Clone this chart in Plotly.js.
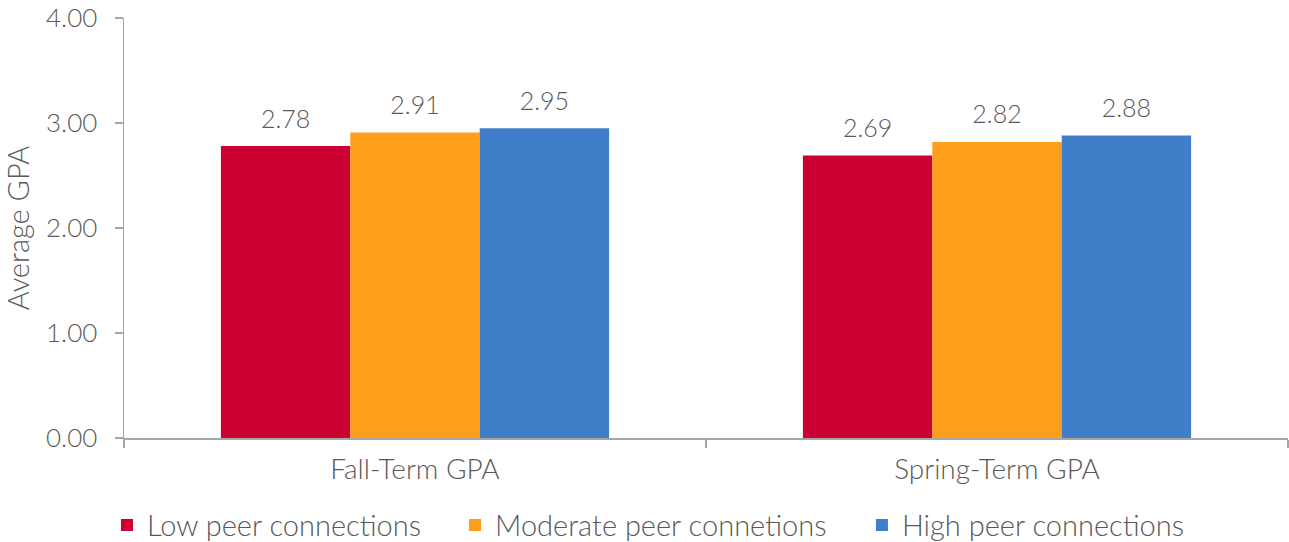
<!DOCTYPE html>
<html>
<head>
<meta charset="utf-8">
<script src="https://cdn.plot.ly/plotly-3.0.1.min.js"></script>
<style>html,body{margin:0;padding:0;background:#fff;}#chart{width:1289px;height:542px;}</style>
</head>
<body>
<div id="chart"></div>
<script>
const categories = ["Fall-Term GPA", "Spring-Term GPA"];
const seriesNames = ["Low peer connections", "Moderate peer connetions", "High peer connections"];
const lowValues = [2.78, 2.69];
const moderateValues = [2.91, 2.82];
const highValues = [2.95, 2.88];
const yTickValues = [0, 1, 2, 3, 4];
const yTickLabels = ["0.00", "1.00", "2.00", "3.00", "4.00"];

const colors = ["#CC0033", "#FF9E1B", "#3F7FCA"];
const legendIds = ["legend", "legend2", "legend3"];
const legendX = [0.0830, 0.3530, 0.6687];
const allValues = [lowValues, moderateValues, highValues];
const FONT = "Lato, 'Open Sans', sans-serif";
const GREY = "#595959";

const barTraces = allValues.map((vals, i) => ({
  type: "bar",
  name: seriesNames[i],
  legend: legendIds[i],
  x: categories,
  y: vals,
  offsetgroup: "g" + i,
  marker: {color: colors[i]},
  hoverinfo: "skip"
}));

const labelTraces = allValues.map((vals, i) => ({
  type: "scatter",
  mode: "markers+text",
  x: categories,
  y: vals,
  offsetgroup: "g" + i,
  marker: {size: 18, opacity: 0, color: colors[i]},
  text: vals.map(v => v.toFixed(2)),
  textposition: "top center",
  textfont: {family: FONT, size: 25, color: GREY, weight: 300},
  cliponaxis: false,
  showlegend: false,
  hoverinfo: "skip"
}));

function legendAt(x) {
  return {
    orientation: "h",
    xref: "container", x: x, xanchor: "left",
    yref: "container", y: 0.031, yanchor: "middle",
    font: {family: FONT, size: 29, color: GREY, weight: 300},
    itemwidth: 30,
    bgcolor: "rgba(0,0,0,0)"
  };
}

const layout = {
  width: 1289, height: 542,
  margin: {l: 124, r: 1, t: 18, b: 104},
  paper_bgcolor: "#fff", plot_bgcolor: "#fff",
  barmode: "group", scattermode: "group",
  bargap: 0.333, bargroupgap: 0, scattergap: 0.333,
  font: {family: FONT, color: GREY, size: 24, weight: 300},
  xaxis: {
    type: "category",
    range: [-0.5, 1.5],
    showline: true, linecolor: "#A6A6A6", linewidth: 1.5,
    ticks: "outside", tickson: "boundaries", ticklen: 8, tickcolor: "#A6A6A6", tickwidth: 1.5,
    tickfont: {family: FONT, size: 28, color: GREY, weight: 300},
    ticklabelstandoff: 6,
    showgrid: false, zeroline: false, automargin: false
  },
  yaxis: {
    range: [0, 4],
    tickvals: yTickValues, ticktext: yTickLabels,
    showline: true, linecolor: "#A6A6A6", linewidth: 1.5,
    ticks: "outside", ticklen: 8, tickcolor: "#A6A6A6", tickwidth: 1.5,
    tickfont: {family: FONT, size: 26, color: GREY, weight: 300},
    ticklabelstandoff: 12,
    showgrid: false, zeroline: false, automargin: false,
    title: {text: "Average GPA", font: {family: FONT, size: 29, color: GREY, weight: 300}, standoff: 8}
  },
  showlegend: true,
  legend: legendAt(legendX[0]),
  legend2: legendAt(legendX[1]),
  legend3: legendAt(legendX[2])
};

Plotly.newPlot("chart", barTraces.concat(labelTraces), layout, {displayModeBar: false, staticPlot: true});
</script>
</body>
</html>
